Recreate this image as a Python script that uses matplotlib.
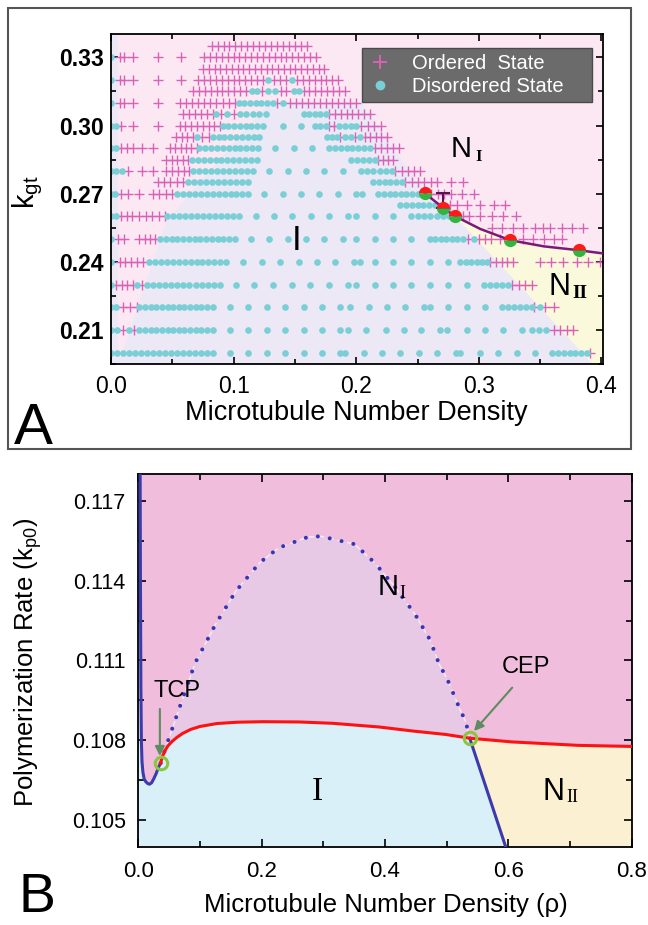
import numpy as np
import matplotlib
matplotlib.use("Agg")
import matplotlib.pyplot as plt
from matplotlib.lines import Line2D
from matplotlib.patches import Rectangle, Polygon
from matplotlib.ticker import MultipleLocator, FormatStrFormatter

plt.rcParams['font.family'] = ['Liberation Sans', 'DejaVu Sans']
plt.rcParams['mathtext.fontset'] = 'custom'
plt.rcParams['mathtext.rm'] = 'Liberation Sans'

# ---------------- panel A data (simulation grid) ----------------
# each row: single x values or (start, stop) dense runs
DENSE = 0.0048
rows_k = [0.335, 0.33, 0.325, 0.32, 0.315, 0.31, 0.305, 0.30, 0.295, 0.29, 0.285,
          0.28, 0.275, 0.27, 0.265, 0.26, 0.255, 0.25, 0.24, 0.23, 0.22, 0.21, 0.20]

ordered = [
    [(0.082, 0.160)],
    [0.007, 0.011, 0.018, 0.038, 0.057, (0.076, 0.167)],
    [(0.075, 0.174)],
    [0.007, 0.011, 0.018, 0.038, 0.057, (0.071, 0.124), (0.133, 0.143), (0.152, 0.185)],
    [(0.067, 0.110), 0.123, 0.139, 0.143, (0.157, 0.191)],
    [0.007, 0.011, 0.018, 0.038, (0.056, 0.101), 0.135, (0.146, 0.200)],
    [(0.059, 0.083), 0.090, 0.100, (0.178, 0.211)],
    [0.008, 0.018, 0.038, (0.056, 0.089), 0.178, 0.182, (0.204, 0.220)],
    [(0.053, 0.067), (0.074, 0.080), 0.187, 0.199, (0.207, 0.225)],
    [0.008, 0.013, 0.018, 0.025, 0.034, (0.048, 0.070), (0.215, 0.235)],
    [(0.045, 0.063), (0.218, 0.230)],
    [0.014, 0.025, 0.034, (0.045, 0.064), (0.232, 0.252)],
    [(0.038, 0.059), (0.240, 0.266), 0.277, 0.287],
    [0.008, 0.014, 0.023, (0.034, 0.050), (0.261, 0.277), 0.286, 0.296],
    [0.2766, 0.282, 0.290, 0.301, 0.312, 0.321],
    [0.008, 0.013, 0.017, (0.023, 0.044), 0.287, 0.292, 0.301, 0.311, 0.320, 0.330],
    [0.311, 0.319, 0.328, 0.336, 0.346, 0.352, 0.358, 0.368, 0.376, 0.385],
    [0.006, 0.011, (0.023, 0.036), 0.291, 0.300, 0.305, 0.310, 0.317, 0.336, 0.344,
     0.353, 0.361, 0.368],
    [(0.007, 0.026), (0.309, 0.328), 0.350, 0.359, 0.369, 0.380, 0.389, 0.399],
    [(0.004, 0.018), 0.025, (0.327, 0.343)],
    [(0.010, 0.021), 0.345, (0.354, 0.361)],
    [0.010, 0.019, (0.361, 0.377)],
    [0.391],
]

disordered = [
    [],
    [0.0],
    [],
    [0.0, 0.128, 0.148],
    [0.115, 0.119, 0.128, 0.134, 0.149, 0.153],
    [0.0, (0.104, 0.132), 0.140],
    [0.086, 0.095, (0.105, 0.126), (0.157, 0.175)],
    [0.0, 0.004, (0.091, 0.124), 0.140, 0.155, (0.166, 0.175), (0.186, 0.200)],
    [0.070, (0.083, 0.121), (0.176, 0.184), 0.191, 0.196, 0.203],
    [0.0, 0.004, (0.072, 0.120), 0.134, 0.149, 0.164, (0.178, 0.211)],
    [(0.066, 0.119), (0.196, 0.215)],
    [0.0, 0.004, 0.009, (0.067, 0.116), 0.129, 0.144, 0.159, 0.174, 0.189, (0.204, 0.229)],
    [(0.063, 0.112), (0.214, 0.237)],
    [0.0, 0.003, (0.054, 0.112), 0.125, 0.140, 0.155, 0.170, 0.185, 0.200, 0.205,
     (0.218, 0.250)],
    [(0.236, 0.264)],
    [0.0, 0.004, (0.046, 0.104), 0.118, 0.133, 0.148, 0.163, 0.178, 0.193, 0.200, 0.215,
     0.230, (0.245, 0.276)],
    [],
    [0.0, (0.040, 0.101), 0.114, 0.129, 0.144, 0.159, 0.174, 0.189, 0.200, 0.215, 0.230,
     0.245, (0.260, 0.287), 0.296],
    [0.0, (0.031, 0.094), 0.108, 0.123, 0.138, 0.153, 0.168, 0.183, 0.198, 0.203, 0.215,
     0.230, 0.245, 0.260, 0.275, (0.285, 0.307)],
    [0.0, 0.021, (0.029, 0.089), 0.102, 0.117, 0.132, 0.148, 0.162, 0.178, 0.193, 0.200,
     0.215, 0.230, 0.245, 0.260, 0.275, 0.290, (0.304, 0.324)],
    [0.0, 0.004, (0.023, 0.083), 0.097, 0.112, 0.127, 0.142, 0.157, 0.172, 0.187, 0.195,
     0.210, 0.225, 0.240, 0.255, 0.260, 0.275, 0.290, 0.305, (0.319, 0.343), 0.350],
    [0.0, 0.005, 0.015, (0.023, 0.083), 0.097, 0.112, 0.127, 0.142, 0.157, 0.172, 0.187,
     0.193, 0.208, 0.224, 0.239, 0.253, 0.268, 0.274, 0.290, 0.305, 0.320, 0.335,
     (0.343, 0.355)],
    [(0.0, 0.083), 0.097, 0.112, 0.127, 0.142, 0.157, 0.172, 0.187, 0.191, 0.206, 0.221,
     0.236, 0.251, 0.266, 0.281, 0.285, 0.301, 0.316, 0.331, 0.346, (0.360, 0.388)],
]

# transition points (half red / half green) and fitted boundary
trans_x = [0.2561, 0.2706, 0.2806, 0.3256, 0.3814]
trans_k = [0.2701, 0.2639, 0.2601, 0.2495, 0.2451]
bound_x = [0.2561, 0.2706, 0.2806, 0.301, 0.3256, 0.353, 0.3814, 0.401]
bound_k = [0.2701, 0.2639, 0.2601, 0.2545, 0.2495, 0.2468, 0.2451, 0.2437]

# background regions of panel A
iso_region = [(0.0, 0.195), (0.393, 0.195), (0.2806, 0.2601), (0.2561, 0.2701),
              (0.205, 0.310), (0.130, 0.311), (0.045, 0.258), (0.019, 0.216),
              (0.008, 0.198), (0.0056, 0.198), (0.0056, 0.3403), (0.0, 0.3403)]
n2_region = [(0.2806, 0.2601), (0.301, 0.2545), (0.3256, 0.2495), (0.353, 0.2468),
             (0.3814, 0.2451), (0.401, 0.2437), (0.401, 0.195), (0.393, 0.195)]

# ---------------- panel B data (phase diagram) ----------------
blue_left_x = [0.0030, 0.0035, 0.0042, 0.0050, 0.0060, 0.0075, 0.0095, 0.0120, 0.0150,
               0.0180, 0.0215, 0.0250, 0.0290, 0.0330, 0.0362]
blue_left_y = [0.1180, 0.1140, 0.1100, 0.1080, 0.1072, 0.1068, 0.10655, 0.10645, 0.10638,
               0.10635, 0.10640, 0.10655, 0.10675, 0.10700, 0.10714]
red_x = [0.0362, 0.039, 0.043, 0.048, 0.055, 0.062, 0.072, 0.085, 0.100, 0.127, 0.160,
         0.202, 0.260, 0.315, 0.391, 0.445, 0.4985, 0.5374, 0.606, 0.714, 0.800]
red_y = [0.10714, 0.10738, 0.10760, 0.10779, 0.10796, 0.10810, 0.10826, 0.10841, 0.10852,
         0.10863, 0.10868, 0.10870, 0.10869, 0.10864, 0.10850, 0.10835, 0.10822, 0.10808,
         0.10794, 0.10781, 0.10777]
blue_right_x = [0.5374, 0.5957]
blue_right_y = [0.10808, 0.1040]
dot_x = [0.0362, 0.0485, 0.070, 0.092, 0.125, 0.158, 0.197, 0.228, 0.275, 0.296, 0.351,
         0.383, 0.415, 0.449, 0.473, 0.4877, 0.501, 0.520, 0.531, 0.5374]
dot_y = [0.10714, 0.1080, 0.10944, 0.1109, 0.11235, 0.1136, 0.11468, 0.11524, 0.11564,
         0.11567, 0.11537, 0.11468, 0.1138, 0.11273, 0.11178, 0.11087, 0.1103, 0.10925,
         0.10869, 0.10808]
tcp = (0.0362, 0.10714)
cep = (0.5374, 0.10808)

PLUS = '#d862b8'
CYAN = '#7acfd6'


def expand(items):
    xs = []
    for it in items:
        if isinstance(it, tuple):
            n = int(round((it[1] - it[0]) / DENSE)) + 1
            xs.extend(np.linspace(it[0], it[1], n))
        else:
            xs.append(it)
    return xs


fig = plt.figure(figsize=(6.48, 9.25), dpi=100)

# ================= panel A =================
axA = fig.add_axes([0.1713, 0.6065, 0.7588, 0.3567])
axA.set_facecolor('#fce8f3')
axA.add_patch(Polygon(iso_region, closed=True, fc='#ece8f5', ec='none', zorder=0))
axA.add_patch(Polygon(n2_region, closed=True, fc='#fbf9dc', ec='none', zorder=0))

for k, o_items, d_items in zip(rows_k, ordered, disordered):
    ox = expand(o_items)
    dx = expand(d_items)
    axA.plot(ox, [k] * len(ox), ls='none', marker='+', ms=6.5, mew=1.0, color=PLUS, zorder=2)
    axA.plot(dx, [k] * len(dx), ls='none', marker='o', ms=4.8, mec='none', color=CYAN, zorder=2)

axA.plot(bound_x, bound_k, color='#7a1a78', lw=1.8, zorder=3)
axA.errorbar([trans_x[1]], [trans_k[1]], yerr=[[0], [0.0062]], color='#5a1450',
             lw=1.5, capsize=5, capthick=1.5, zorder=3)
axA.plot(trans_x, trans_k, ls='none', marker='o', ms=9.5, fillstyle='top',
         mfc='#ff1a1a', mfcalt='#33b340', mec='none', zorder=4)

axA.set_xlim(0, 0.401)
axA.set_ylim(0.195, 0.3403)
axA.xaxis.set_major_locator(MultipleLocator(0.1))
axA.xaxis.set_minor_locator(MultipleLocator(0.05))
axA.set_yticks([0.21, 0.24, 0.27, 0.30, 0.33])
axA.yaxis.set_minor_locator(MultipleLocator(0.015))
axA.xaxis.set_major_formatter(FormatStrFormatter('%.1f'))
axA.yaxis.set_major_formatter(FormatStrFormatter('%.2f'))
axA.tick_params(which='both', direction='in', top=True, right=True, width=1.2)
axA.tick_params(which='major', length=5)
axA.tick_params(which='minor', length=3.5)
axA.tick_params(axis='x', labelsize=16.5, pad=8)
axA.tick_params(axis='y', labelsize=16.5, pad=5)
for lab in axA.get_yticklabels():
    lab.set_fontweight('bold')
for sp in axA.spines.values():
    sp.set_linewidth(1.3)

axA.text(0.1516, 0.2493, 'I', fontsize=25, ha='center', va='center', zorder=5)
axA.text(0.2766, 0.2896, 'N', fontsize=21, ha='left', va='center', zorder=5)
axA.text(0.3000, 0.2862, 'I', fontsize=12, fontweight='bold', family='Liberation Serif',
         ha='center', va='center', zorder=5)
axA.text(0.3566, 0.2290, 'N', fontsize=22, ha='left', va='center', zorder=5)
axA.text(0.3820, 0.2262, 'II', fontsize=14, fontweight='bold', family='Liberation Serif',
         ha='center', va='center', zorder=5)

handles = [Line2D([], [], ls='none', marker='+', ms=10, mew=1.4, color=PLUS, label='Ordered  State'),
           Line2D([], [], ls='none', marker='o', ms=7, mec='none', color=CYAN, label='Disordered State')]
leg = axA.legend(handles=handles, loc='upper left', bbox_to_anchor=(0.51, 0.791, 0.468, 0.167),
                 mode='expand', fontsize=14.5, frameon=True, fancybox=False, facecolor='#6b6b6b',
                 edgecolor='#4a4a4a', framealpha=1, labelcolor='white', borderpad=0.3,
                 labelspacing=0.2, handletextpad=1.0, handlelength=1.2, borderaxespad=0)
leg.set_zorder(6)

fig.text(28 / 648, 1 - 192 / 925, r'$\mathregular{k_{gt}}$', fontsize=21, rotation=90,
         ha='center', va='center')
fig.text(356 / 648, 1 - 413 / 925, 'Microtubule Number Density', fontsize=19.5,
         ha='center', va='center')
fig.text(33 / 648, 1 - 444 / 925, 'A', fontsize=42, ha='center', va='baseline')
fig.add_artist(Rectangle((8 / 648, 1 - 449 / 925), 623 / 648, 441 / 925,
                         transform=fig.transFigure, fill=False, ec='#555555', lw=1.5))

# ================= panel B =================
axB = fig.add_axes([0.2134, 0.0846, 0.7614, 0.4027])
axB.set_facecolor('#f0bddd')

n_tc = red_x.index(cep[0]) + 1
lav = list(zip(dot_x, dot_y)) + list(zip(red_x[:n_tc][::-1], red_y[:n_tc][::-1]))
axB.add_patch(Polygon(lav, closed=True, fc='#e7c9e6', ec='none', zorder=0))
iso = (list(zip(blue_left_x, blue_left_y)) + list(zip(red_x[1:n_tc], red_y[1:n_tc]))
       + list(zip(blue_right_x[1:], blue_right_y[1:])) + [(0.0, 0.104), (0.0, 0.118)])
axB.add_patch(Polygon(iso, closed=True, fc='#d9f0f8', ec='none', zorder=0))
n2 = (list(zip(red_x[n_tc - 1:], red_y[n_tc - 1:])) + [(0.8, 0.104)]
      + list(zip(blue_right_x[::-1], blue_right_y[::-1])))
axB.add_patch(Polygon(n2, closed=True, fc='#fbf0d1', ec='none', zorder=0))

axB.plot(dot_x, dot_y, color='white', lw=1.0, alpha=0.7, ls=(0, (4, 3)), zorder=2)
axB.plot(dot_x, dot_y, color='#3535b5', lw=2.9, ls=(0, (0.01, 3.0)),
         dash_capstyle='round', zorder=3)
axB.plot(blue_left_x, blue_left_y, color='#3b3bab', lw=2.2, zorder=3)
axB.plot(blue_right_x, blue_right_y, color='#3b3bab', lw=2.2, zorder=3)
axB.plot(red_x, red_y, color='#ff1111', lw=2.2, zorder=4)
axB.plot([tcp[0], cep[0]], [tcp[1], cep[1]], ls='none', marker='o', ms=9, mfc='none',
         mec='#8cc63f', mew=2.2, zorder=5)

arrow = dict(arrowstyle='-|>', color='#5e8c5e', lw=1.5, mutation_scale=14, shrinkA=0, shrinkB=0)
axB.annotate('', xy=(0.0350, 0.10741), xytext=(0.0350, 0.10918), arrowprops=arrow, zorder=6)
axB.annotate('', xy=(0.5444, 0.10835), xytext=(0.6063, 0.10998), arrowprops=arrow, zorder=6)
axB.text(0.062, 0.10985, 'TCP', fontsize=17, ha='center', va='center', zorder=6)
axB.text(0.629, 0.11074, 'CEP', fontsize=17, ha='center', va='center', zorder=6)

axB.text(0.291, 0.10605, 'I', fontsize=24, family='Liberation Serif', ha='center',
         va='center', zorder=6)
axB.text(0.388, 0.11376, 'N', fontsize=21, ha='left', va='center', zorder=6)
axB.text(0.4290, 0.11350, 'I', fontsize=13, family='Liberation Serif', ha='center',
         va='center', zorder=6)
axB.text(0.655, 0.10605, 'N', fontsize=22, ha='left', va='center', zorder=6)
axB.text(0.704, 0.10586, 'II', fontsize=13, family='Liberation Serif', ha='center',
         va='center', zorder=6)

axB.set_xlim(0, 0.8)
axB.set_ylim(0.104, 0.118)
axB.xaxis.set_major_locator(MultipleLocator(0.2))
axB.xaxis.set_minor_locator(MultipleLocator(0.1))
axB.set_yticks([0.105, 0.108, 0.111, 0.114, 0.117])
axB.yaxis.set_minor_locator(MultipleLocator(0.0015))
axB.xaxis.set_major_formatter(FormatStrFormatter('%.1f'))
axB.yaxis.set_major_formatter(FormatStrFormatter('%.3f'))
axB.tick_params(which='both', direction='in', top=True, right=True, width=1.2)
axB.tick_params(which='major', length=6)
axB.tick_params(which='minor', length=4)
axB.tick_params(axis='x', labelsize=16, pad=10)
axB.tick_params(axis='y', labelsize=15.5, pad=9)
for sp in axB.spines.values():
    sp.set_linewidth(1.3)

fig.text(28 / 648, 1 - 662 / 925, r'Polymerization Rate (k$_{\mathregular{p0}}$)',
         fontsize=18.5, rotation=90, ha='center', va='center')
fig.text(386 / 648, 1 - 905 / 925, 'Microtubule Number Density (\u03c1)', fontsize=18.5,
         ha='center', va='center')
fig.text(37 / 648, 1 / 925, 'B', fontsize=40, ha='center', va='bottom')

fig.savefig('out.png', dpi=100)
